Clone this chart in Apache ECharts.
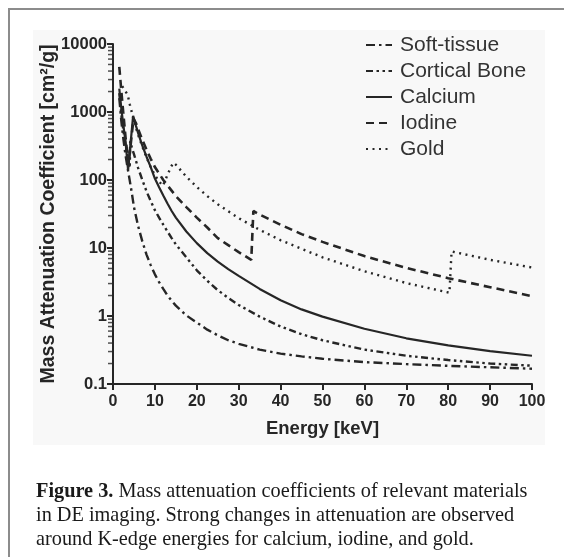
<!DOCTYPE html>
<html>
<head>
<meta charset="utf-8">
<script src="https://cdn.jsdelivr.net/npm/echarts@6/dist/echarts.min.js"></script>
<style>
  html, body { margin: 0; padding: 0; background: #ffffff; }
  #chart { width: 564px; height: 557px; }
</style>
</head>
<body>
<div id="chart"></div>
<script>
// Mass attenuation coefficients [cm^2/g] versus photon energy [keV]
const softTissueEnergy = [1.5, 2, 2.5, 3, 3.5, 4, 4.5, 5, 6, 7, 8, 9, 10, 11, 12, 13, 14, 15, 17.5, 20, 22.5, 25, 27.5, 30, 35, 40, 45, 50, 60, 70, 80, 90, 100];
const softTissue = [1600, 720, 390, 230, 148, 98, 64, 40, 21, 12.5, 8, 5.6, 4.1, 3.15, 2.5, 2.0, 1.68, 1.42, 1.02, 0.8, 0.63, 0.52, 0.44, 0.39, 0.32, 0.28, 0.255, 0.235, 0.21, 0.196, 0.185, 0.176, 0.168];

const boneEnergy = [1.5, 2, 2.5, 3, 3.5, 4.0, 4.1, 4.5, 5, 6, 7, 8, 9, 10, 11, 12, 13, 14, 15, 17.5, 20, 22.5, 25, 27.5, 30, 35, 40, 45, 50, 60, 70, 80, 90, 100];
const corticalBone = [1900, 900, 520, 330, 215, 150, 370, 300, 240, 150, 100, 68, 49, 36, 28, 22, 17.5, 14, 11.3, 7.3, 4.7, 3.3, 2.4, 1.85, 1.45, 0.98, 0.70, 0.54, 0.44, 0.32, 0.26, 0.225, 0.2, 0.186];

const calciumEnergy = [1.5, 2, 2.5, 3, 3.6, 4.8, 5.5, 6, 7, 8, 9, 10, 11, 12, 13, 14, 15, 17.5, 20, 22.5, 25, 27.5, 30, 35, 40, 45, 50, 60, 70, 80, 90, 100];
const calcium = [2200, 1100, 620, 360, 140, 880, 620, 490, 320, 220, 155, 105, 78, 59, 45, 35, 28, 17.5, 11.8, 8.4, 6.3, 4.9, 3.9, 2.5, 1.7, 1.25, 0.98, 0.65, 0.47, 0.37, 0.305, 0.26];

const iodineEnergy = [1.5, 2, 2.5, 3, 3.7, 4.9, 5.5, 6, 7, 8, 9, 10, 12, 15, 17.5, 20, 22.5, 25, 27.5, 30, 33.0, 33.5, 35, 40, 45, 50, 60, 70, 80, 90, 100];
const iodine = [4600, 2000, 900, 420, 170, 800, 680, 560, 390, 280, 205, 155, 100, 58, 40, 28, 20, 14, 11, 8.7, 6.7, 35, 31, 22, 16, 12.3, 7.6, 5.1, 3.6, 2.65, 1.95];

const goldEnergy = [2.2, 3, 3.5, 4, 5, 6, 7, 8, 9, 10, 11, 11.9, 13.7, 14.4, 15, 17.5, 20, 22.5, 25, 30, 35, 40, 50, 60, 70, 80.3, 80.8, 90, 100];
const gold = [2400, 2000, 1800, 1300, 740, 460, 310, 215, 155, 118, 95, 82, 150, 180, 168, 112, 79, 58, 44, 27.5, 18.5, 13, 7.3, 4.55, 3.05, 2.2, 8.9, 6.7, 5.16];

// Axis ticks
const xTicks = [0, 10, 20, 30, 40, 50, 60, 70, 80, 90, 100];
const yTickLabels = ['0.1', '1', '10', '100', '1000', '10000'];

const INK = '#262626';
const SANS = '"Liberation Sans", Arial, sans-serif';
const SERIF = '"Liberation Serif", "Times New Roman", serif';

function pairs(xs, ys) { return xs.map((x, i) => [x, ys[i]]); }

// Logarithmic minor ticks (2..9 within each decade) drawn along the y axis
const minorTickValues = [];
for (let d = -1; d < 4; d++) {
  for (let k = 2; k <= 9; k++) minorTickValues.push([0, k * Math.pow(10, d)]);
}

function curve(name, xs, ys, dash, width) {
  return {
    name: name,
    type: 'line',
    data: pairs(xs, ys),
    showSymbol: false,
    symbol: 'none',
    smooth: false,
    clip: true,
    lineStyle: { color: INK, width: width, type: dash },
    itemStyle: { color: INK },
    z: 3
  };
}

const chart = echarts.init(document.getElementById('chart'), null, { renderer: 'canvas' });

chart.setOption({
  animation: false,
  backgroundColor: '#ffffff',
  grid: { left: 113, right: 32, top: 44, bottom: 173, containLabel: false },
  legend: {
    orient: 'vertical',
    left: 360,
    top: 29,
    itemWidth: 26,
    itemHeight: 14,
    itemGap: 4,
    itemStyle: { opacity: 0 },
    textStyle: { fontFamily: SANS, fontSize: 21, color: '#333', lineHeight: 22, padding: [0, 0, 0, 3] },
    data: ['Soft-tissue', 'Cortical Bone', 'Calcium', 'Iodine', 'Gold']
  },
  xAxis: {
    type: 'value',
    min: 0,
    max: 100,
    interval: 10,
    name: 'Energy [keV]',
    nameLocation: 'middle',
    nameGap: 35,
    nameTextStyle: { fontFamily: SANS, fontWeight: 'bold', fontSize: 18.5, color: INK },
    axisLine: { show: true, onZero: false, lineStyle: { color: INK, width: 2 } },
    axisTick: { show: true, length: 6, lineStyle: { color: INK, width: 2 } },
    axisLabel: {
      fontFamily: SANS, fontWeight: 'bold', fontSize: 16, color: INK, margin: 10,
      formatter: v => (xTicks.indexOf(v) >= 0 ? String(v) : '')
    },
    splitLine: { show: false }
  },
  yAxis: {
    type: 'log',
    logBase: 10,
    min: 0.1,
    max: 10000,
    name: 'Mass Attenuation Coefficient [cm²/g]',
    nameLocation: 'middle',
    nameGap: 54,
    nameMoveOverlap: false,
    nameRotate: 90,
    nameTextStyle: { fontFamily: SANS, fontWeight: 'bold', fontSize: 19.5, color: INK },
    axisLine: { show: true, lineStyle: { color: INK, width: 2 } },
    axisTick: { show: true, length: 6, lineStyle: { color: INK, width: 2 } },
    axisLabel: {
      fontFamily: SANS, fontWeight: 'bold', fontSize: 16.5, color: INK, margin: 6,
      formatter: v => yTickLabels[Math.round(Math.log10(v)) + 1] || ''
    },
    splitLine: { show: false }
  },
  series: [
    curve('Soft-tissue', softTissueEnergy, softTissue, [9, 4, 2.5, 4], 2.4),
    curve('Cortical Bone', boneEnergy, corticalBone, [7, 3.5, 2.5, 3.5, 2.5, 3.5], 2.4),
    curve('Calcium', calciumEnergy, calcium, 'solid', 2.2),
    curve('Iodine', iodineEnergy, iodine, [8, 5], 2.6),
    curve('Gold', goldEnergy, gold, [2, 4.5], 2.4),
    {
      name: 'minor-ticks',
      type: 'scatter',
      data: minorTickValues,
      symbol: 'rect',
      symbolSize: [4, 1.5],
      symbolOffset: [-3, 0],
      itemStyle: { color: INK },
      clip: false,
      silent: true,
      z: 4
    }
  ],
  graphic: [
    // panel behind the plot
    { type: 'rect', z: -10, silent: true, shape: { x: 33, y: 30, width: 512, height: 415 }, style: { fill: '#f8f8f8' } },
    // frame
    { type: 'polyline', z: 10, silent: true, shape: { points: [[9, 557], [9, 9], [564, 9]] }, style: { stroke: '#8c8c8c', lineWidth: 2, fill: null } },
    // caption
    {
      type: 'text', left: 36, top: 480, z: 10, silent: true,
      style: {
        text: '{b|Figure 3.} Mass attenuation coefficients of relevant materials\nin DE imaging. Strong changes in attenuation are observed\naround K-edge energies for calcium, iodine, and gold.',
        fontFamily: SERIF, fontSize: 20.3, lineHeight: 24, fill: '#1a1a1a',
        rich: { b: { fontFamily: SERIF, fontSize: 20.3, fontWeight: 'bold', fill: '#1a1a1a', lineHeight: 24 } }
      }
    }
  ]
});
</script>
</body>
</html>
